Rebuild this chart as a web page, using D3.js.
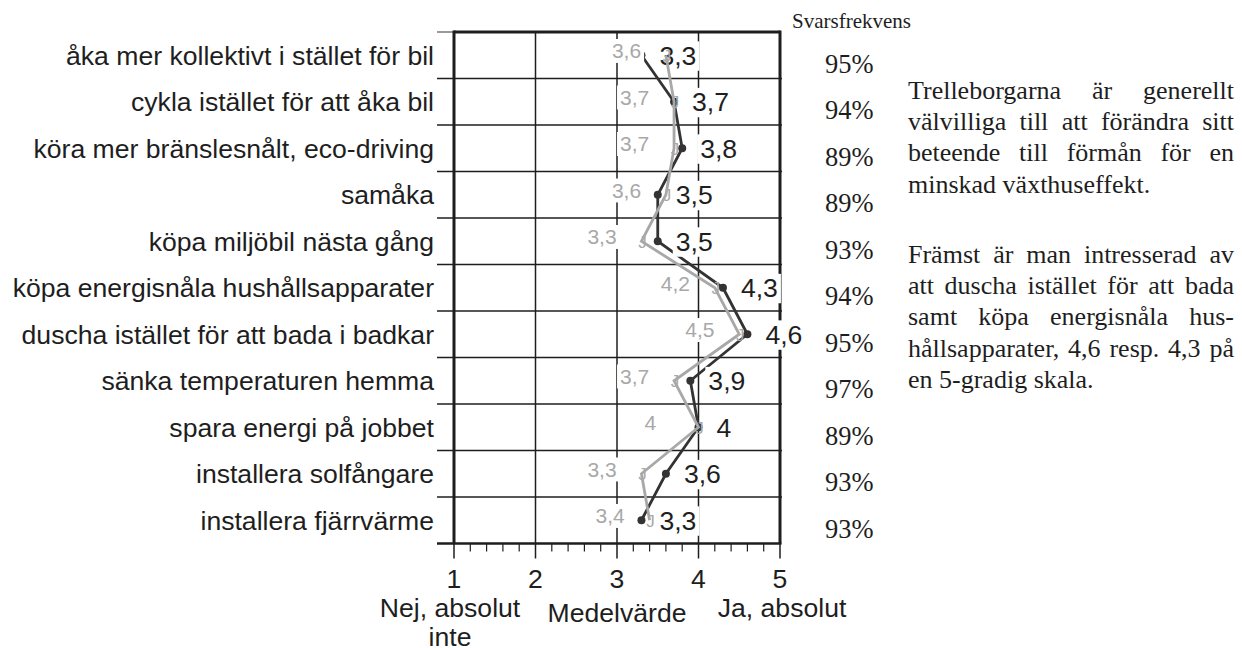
<!DOCTYPE html>
<html><head><meta charset="utf-8">
<script src="https://cdn.jsdelivr.net/npm/d3@7"></script>
<style>
html,body{margin:0;padding:0;background:#fff;}
svg{display:block;}
</style></head>
<body>
<svg id="chart" width="1242" height="648"></svg>
<script>
const categories = [
  "åka mer kollektivt i stället för bil",
  "cykla istället för att åka bil",
  "köra mer bränslesnålt, eco-driving",
  "samåka",
  "köpa miljöbil nästa gång",
  "köpa energisnåla hushållsapparater",
  "duscha istället för att bada i badkar",
  "sänka temperaturen hemma",
  "spara energi på jobbet",
  "installera solfångare",
  "installera fjärrvärme"
];
const currentValues  = [3.3, 3.7, 3.8, 3.5, 3.5, 4.3, 4.6, 3.9, 4.0, 3.6, 3.3];
const previousValues = [3.6, 3.7, 3.7, 3.6, 3.3, 4.2, 4.5, 3.7, 4.0, 3.3, 3.4];
const responseRates  = ["95%", "94%", "89%", "89%", "93%", "94%", "95%", "97%", "89%", "93%", "93%"];
const xTicks = [1, 2, 3, 4, 5];
const responseTitle = "Svarsfrekvens";
const axisLeftLabel = ["Nej, absolut", "inte"];
const axisMidLabel = "Medelvärde";
const axisRightLabel = "Ja, absolut";
const block1 = ["Trelleborgarna är generellt", "välvilliga till att förändra sitt", "beteende till förmån för en", "minskad växthuseffekt."];
const block2 = ["Främst är man intresserad av", "att duscha istället för att bada", "samt köpa energisnåla hus-", "hållsapparater, 4,6 resp. 4,3 på", "en 5-gradig skala."];

(function () {
const SANS = "'Liberation Sans', Arial, Helvetica, sans-serif";
const SERIF = "'Liberation Serif', 'Times New Roman', Times, serif";
const INK = "#1e1e1e";
const DARK = "#333333";
const GRAY = "#a8a8a8";
const FS = 26.6;

const svg = d3.select("#chart");
const pL = 454, pR = 780, pT = 32, pB = 543.5;
const x = d3.scaleLinear().domain([1, 5]).range([pL, pR]);
const y = d3.scaleBand().domain(categories).range([pT, pB]).padding(0);
const cy = i => y(categories[i]) + y.bandwidth() / 2;
const fmt = v => (Number.isInteger(v) ? String(v) : v.toFixed(1).replace(".", ","));

// vertical gridlines
svg.append("g").selectAll("line").data([2, 3, 4]).join("line")
  .attr("x1", d => x(d)).attr("x2", d => x(d))
  .attr("y1", pT).attr("y2", pB)
  .attr("stroke", INK).attr("stroke-width", 1.5);

// row lines
const rowLines = categories.slice(1).map(c => y(c));
svg.append("g").selectAll("line").data(rowLines).join("line")
  .attr("x1", 437).attr("x2", 782)
  .attr("y1", d => d).attr("y2", d => d)
  .attr("stroke", INK).attr("stroke-width", 1.5);
svg.append("line").attr("x1", 437).attr("x2", pL).attr("y1", pT).attr("y2", pT)
  .attr("stroke", "#777").attr("stroke-width", 1.5);

// frame
svg.append("line").attr("x1", pL).attr("x2", pR).attr("y1", pT).attr("y2", pT)
  .attr("stroke", INK).attr("stroke-width", 3);
svg.append("line").attr("x1", pL).attr("x2", pL).attr("y1", pT - 1.5).attr("y2", pB)
  .attr("stroke", INK).attr("stroke-width", 3);
svg.append("line").attr("x1", pR).attr("x2", pR).attr("y1", pT - 1.5).attr("y2", pB)
  .attr("stroke", INK).attr("stroke-width", 3);

// bottom axis
const axisG = svg.append("g").attr("transform", `translate(0,${pB})`);
axisG.append("line").attr("x1", 437).attr("x2", pR + 1.5).attr("y1", 0).attr("y2", 0)
  .attr("stroke", INK).attr("stroke-width", 2.5);
const minor = d3.range(1, 5.0001, 0.2).filter(v => Math.abs(v - Math.round(v)) > 1e-6);
axisG.selectAll("line.minor").data(minor).join("line").attr("class", "minor")
  .attr("x1", d => x(d)).attr("x2", d => x(d)).attr("y1", 0).attr("y2", 8)
  .attr("stroke", INK).attr("stroke-width", 1.2);
axisG.selectAll("line.major").data(xTicks).join("line").attr("class", "major")
  .attr("x1", d => x(d)).attr("x2", d => x(d)).attr("y1", 0).attr("y2", 15)
  .attr("stroke", INK).attr("stroke-width", 1.5);
axisG.selectAll("text").data(xTicks).join("text")
  .attr("x", d => x(d)).attr("y", 44).attr("text-anchor", "middle")
  .attr("font-family", SANS).attr("font-size", FS).attr("fill", INK).text(d => d);

svg.append("text").attr("x", 450).attr("y", 617).attr("text-anchor", "middle")
  .attr("font-family", SANS).attr("font-size", FS).attr("fill", INK).text(axisLeftLabel[0]);
svg.append("text").attr("x", 450).attr("y", 646).attr("text-anchor", "middle")
  .attr("font-family", SANS).attr("font-size", FS).attr("fill", INK).text(axisLeftLabel[1]);
svg.append("text").attr("x", x(3)).attr("y", 622).attr("text-anchor", "middle")
  .attr("font-family", SANS).attr("font-size", FS).attr("fill", INK).text(axisMidLabel);
svg.append("text").attr("x", x(5) + 2).attr("y", 617).attr("text-anchor", "middle")
  .attr("font-family", SANS).attr("font-size", FS).attr("fill", INK).text(axisRightLabel);

// category labels
svg.append("g").selectAll("text").data(categories).join("text")
  .attr("x", 434).attr("y", (d, i) => cy(i) + 9.5).attr("text-anchor", "end")
  .attr("font-family", SANS).attr("font-size", FS).attr("fill", INK).text(d => d);

// response rates
svg.append("text").attr("x", 792).attr("y", 27.5)
  .attr("font-family", SERIF).attr("font-size", 21).attr("fill", INK).text(responseTitle);
svg.append("g").selectAll("text").data(responseRates).join("text")
  .attr("x", 825).attr("y", (d, i) => cy(i) + 17.5)
  .attr("font-family", SERIF).attr("font-size", 26.5).attr("fill", INK).text(d => d);

// dark (current) series
const lineCur = d3.line().x(d => x(d)).y((d, i) => cy(i));
svg.append("path").datum(currentValues).attr("d", lineCur)
  .attr("fill", "none").attr("stroke", DARK).attr("stroke-width", 2.8);
svg.append("g").selectAll("circle").data(currentValues).join("circle")
  .attr("cx", d => x(d)).attr("cy", (d, i) => cy(i)).attr("r", 4).attr("fill", DARK);

// labels with white backgrounds
function boxedLabel(g, tx, ty, str, size, color) {
  const grp = g.append("g");
  const rect = grp.append("rect").attr("fill", "#fff");
  const t = grp.append("text").attr("x", tx).attr("y", ty)
    .attr("font-family", SANS).attr("font-size", size).attr("fill", color).text(str);
  const b = t.node().getBBox();
  const pad = 3;
  rect.attr("x", b.x - pad).attr("y", b.y + b.height * 0.12 - pad)
    .attr("width", b.width + 2 * pad).attr("height", b.height * 0.78 + 2 * pad);
}
const labG = svg.append("g");
previousValues.forEach((v, i) => boxedLabel(labG, x(v) - 54, cy(i) + 3, fmt(v), 21, GRAY));
currentValues.forEach((v, i) => boxedLabel(labG, x(v) + 18, cy(i) + 9.5, fmt(v), FS, INK));

// gray (previous) series
const linePrev = d3.line().x(d => x(d)).y((d, i) => cy(i));
svg.append("path").datum(previousValues).attr("d", linePrev)
  .attr("fill", "none").attr("stroke", GRAY).attr("stroke-width", 2.8);
svg.append("g").selectAll("text").data(previousValues).join("text")
  .attr("x", d => x(d) + 1).attr("y", (d, i) => cy(i) + 6.5).attr("text-anchor", "middle")
  .attr("font-family", SANS).attr("font-size", 17).attr("fill", GRAY).text("J");

// paragraph text, justified
function paragraph(lines, startY, lh) {
  const L = 908, R = 1234;
  lines.forEach((line, li) => {
    const words = line.split(" ");
    const yy = startY + li * lh;
    const g = svg.append("g");
    const ts = words.map(w => g.append("text").attr("y", yy)
      .attr("font-family", SERIF).attr("font-size", 26).attr("fill", INK).text(w));
    const widths = ts.map(t => t.node().getComputedTextLength());
    const last = li === lines.length - 1;
    const gap = (last || words.length < 2) ? 26 * 0.25
      : (R - L - d3.sum(widths)) / (words.length - 1);
    let cx = L;
    ts.forEach((t, k) => { t.attr("x", cx); cx += widths[k] + gap; });
  });
}
paragraph(block1, 99, 31.2);
paragraph(block2, 263, 31.2);
})();
</script>
</body></html>
